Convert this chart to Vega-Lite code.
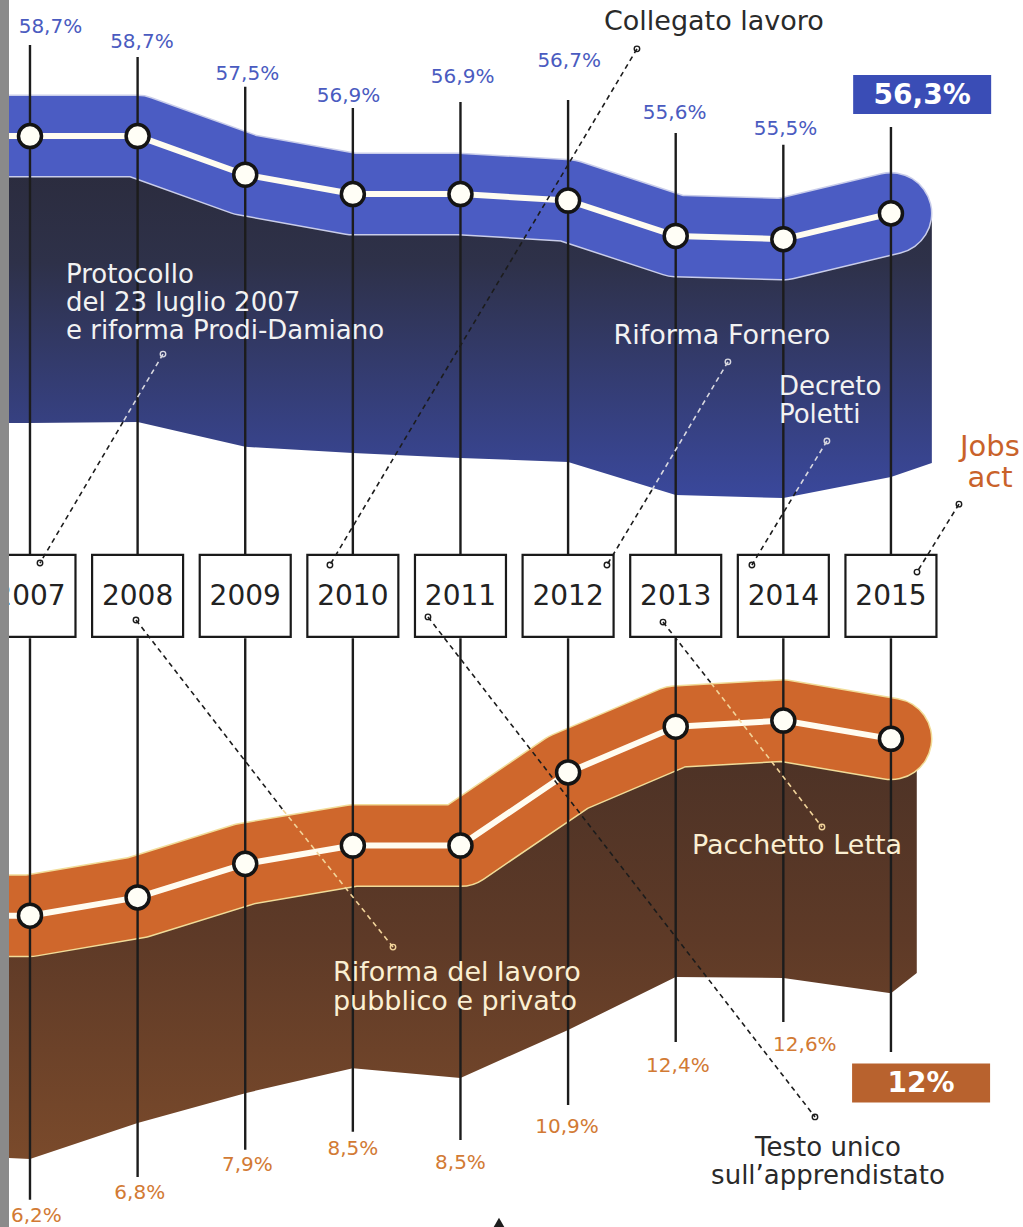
{
  "$schema": "https://vega.github.io/schema/vega-lite/v6.json",
  "width": 1023,
  "height": 1227,
  "autosize": {"type": "fit", "contains": "padding"},
  "padding": {"left": 9, "top": 0, "right": 0, "bottom": 0},
  "background": "#8a8a8a",
  "config": {"view": {"fill": "#ffffff", "stroke": null}, "text": {"font": "DejaVu Sans"}},
  "datasets": {
    "series": [
      {"year": 2007, "occupazione": 58.7, "disoccupazione": 6.2, "occ_lab": "58,7%", "dis_lab": "6,2%", "occ_lx": 2007.19, "occ_ly": 62.09, "occ_top": 61.53, "dis_lx": 2007.06, "dis_ly": -3.65, "dis_bot": -3.12},
      {"year": 2008, "occupazione": 58.7, "disoccupazione": 6.8, "occ_lab": "58,7%", "dis_lab": "6,8%", "occ_lx": 2008.04, "occ_ly": 61.62, "occ_top": 61.16, "dis_lx": 2008.02, "dis_ly": -2.9, "dis_bot": -2.37},
      {"year": 2009, "occupazione": 57.5, "disoccupazione": 7.9, "occ_lab": "57,5%", "dis_lab": "7,9%", "occ_lx": 2009.02, "occ_ly": 60.63, "occ_top": 60.23, "dis_lx": 2009.02, "dis_ly": -1.98, "dis_bot": -1.48},
      {"year": 2010, "occupazione": 56.9, "disoccupazione": 8.5, "occ_lab": "56,9%", "dis_lab": "8,5%", "occ_lx": 2009.96, "occ_ly": 59.95, "occ_top": 59.57, "dis_lx": 2010.0, "dis_ly": -1.45, "dis_bot": -0.89},
      {"year": 2011, "occupazione": 56.9, "disoccupazione": 8.5, "occ_lab": "56,9%", "dis_lab": "8,5%", "occ_lx": 2011.02, "occ_ly": 60.54, "occ_top": 59.76, "dis_lx": 2011.0, "dis_ly": -1.91, "dis_bot": -1.16},
      {"year": 2012, "occupazione": 56.7, "disoccupazione": 10.9, "occ_lab": "56,7%", "dis_lab": "10,9%", "occ_lx": 2012.01, "occ_ly": 61.03, "occ_top": 59.82, "dis_lx": 2011.99, "dis_ly": -0.73, "dis_bot": -0.01},
      {"year": 2013, "occupazione": 55.6, "disoccupazione": 12.4, "occ_lab": "55,6%", "dis_lab": "12,4%", "occ_lx": 2012.99, "occ_ly": 59.42, "occ_top": 58.8, "dis_lx": 2013.02, "dis_ly": 1.27, "dis_bot": 2.06},
      {"year": 2014, "occupazione": 55.5, "disoccupazione": 12.6, "occ_lab": "55,5%", "dis_lab": "12,6%", "occ_lx": 2014.02, "occ_ly": 58.92, "occ_top": 58.43, "dis_lx": 2014.2, "dis_ly": 1.96, "dis_bot": 2.71},
      {"year": 2015, "occupazione": 56.3, "disoccupazione": 12.0, "occ_lab": "56,3%", "dis_lab": "12%", "occ_lx": 2015.29, "occ_ly": 59.99, "occ_top": 58.98, "dis_lx": 2015.28, "dis_ly": 0.71, "dis_bot": 1.73}
    ],
    "ribbonB": [
      {"x": 2006.8, "band": 58.7, "top": 58.7, "bottom": 49.79},
      {"x": 2007, "band": 58.7, "top": 58.7, "bottom": 49.79},
      {"x": 2008, "band": 58.7, "top": 58.7, "bottom": 49.82},
      {"x": 2009, "band": 57.5, "top": 57.5, "bottom": 49.05},
      {"x": 2010, "band": 56.9, "top": 56.9, "bottom": 48.86},
      {"x": 2011, "band": 56.9, "top": 56.9, "bottom": 48.7},
      {"x": 2012, "band": 56.7, "top": 56.7, "bottom": 48.58},
      {"x": 2013, "band": 55.6, "top": 55.6, "bottom": 47.55},
      {"x": 2014, "band": 55.5, "top": 55.5, "bottom": 47.46},
      {"x": 2015, "band": 56.3, "top": 56.3, "bottom": 48.11},
      {"x": 2015.38, "band": null, "top": 56.3, "bottom": 48.55}
    ],
    "ribbonO": [
      {"x": 2006.8, "band": 6.2, "top": 6.2, "bottom": -1.75},
      {"x": 2007, "band": 6.2, "top": 6.2, "bottom": -1.78},
      {"x": 2008, "band": 6.8, "top": 6.8, "bottom": -0.6},
      {"x": 2009, "band": 7.9, "top": 7.9, "bottom": 0.38},
      {"x": 2010, "band": 8.5, "top": 8.5, "bottom": 1.2},
      {"x": 2011, "band": 8.5, "top": 8.5, "bottom": 0.88},
      {"x": 2012, "band": 10.9, "top": 10.9, "bottom": 2.45},
      {"x": 2013, "band": 12.4, "top": 12.4, "bottom": 4.19},
      {"x": 2014, "band": 12.6, "top": 12.6, "bottom": 4.16},
      {"x": 2015, "band": 12.0, "top": 12.0, "bottom": 3.66},
      {"x": 2015.24, "band": null, "top": 12.0, "bottom": 4.32}
    ],
    "leadersUp": [
      {"x": 2008.236, "y": 51.93, "x2": 2007.864, "y2": 49.82, "tone": "light"},
      {"x": 2007.864, "y": 49.82, "x2": 2007.093, "y2": 45.44, "tone": "dark"},
      {"x": 2012.64, "y": 61.41, "x2": 2009.787, "y2": 45.38, "tone": "dark"},
      {"x": 2013.485, "y": 51.69, "x2": 2012.779, "y2": 47.71, "tone": "light"},
      {"x": 2012.779, "y": 47.71, "x2": 2012.361, "y2": 45.38, "tone": "dark"},
      {"x": 2014.405, "y": 49.23, "x2": 2014.117, "y2": 47.65, "tone": "light"},
      {"x": 2014.117, "y": 47.65, "x2": 2013.708, "y2": 45.38, "tone": "dark"},
      {"x": 2015.632, "y": 47.27, "x2": 2015.242, "y2": 45.16, "tone": "dark"}
    ],
    "endsUp": [
      {"x": 2008.236, "y": 51.93, "tone": "light"},
      {"x": 2007.093, "y": 45.44, "tone": "dark"},
      {"x": 2012.64, "y": 61.41, "tone": "dark"},
      {"x": 2009.787, "y": 45.38, "tone": "dark"},
      {"x": 2013.485, "y": 51.69, "tone": "light"},
      {"x": 2012.361, "y": 45.38, "tone": "dark"},
      {"x": 2014.405, "y": 49.23, "tone": "light"},
      {"x": 2013.708, "y": 45.38, "tone": "dark"},
      {"x": 2015.632, "y": 47.27, "tone": "dark"},
      {"x": 2015.242, "y": 45.16, "tone": "dark"}
    ],
    "leadersDown": [
      {"x": 2007.985, "y": 15.9, "x2": 2009.351, "y2": 9.67, "tone": "dark"},
      {"x": 2009.351, "y": 9.67, "x2": 2010.373, "y2": 5.17, "tone": "cream"},
      {"x": 2010.698, "y": 16.0, "x2": 2014.294, "y2": -0.4, "tone": "dark"},
      {"x": 2012.882, "y": 15.83, "x2": 2013.328, "y2": 13.83, "tone": "dark"},
      {"x": 2013.328, "y": 13.83, "x2": 2014.359, "y2": 9.11, "tone": "cream"}
    ],
    "endsDown": [
      {"x": 2007.985, "y": 15.9, "tone": "dark"},
      {"x": 2010.373, "y": 5.17, "tone": "cream"},
      {"x": 2010.698, "y": 16.0, "tone": "dark"},
      {"x": 2014.294, "y": -0.4, "tone": "dark"},
      {"x": 2012.882, "y": 15.83, "tone": "dark"},
      {"x": 2014.359, "y": 9.11, "tone": "cream"}
    ]
  },
  "layer": [
    {
      "layer": [
        {
          "data": {"name": "ribbonB"},
          "mark": {"type": "area", "clip": true, "color": {"gradient": "linear", "x1": 0, "y1": 0, "x2": 0, "y2": 1, "stops": [{"offset": 0, "color": "#2a2a3a"}, {"offset": 0.35, "color": "#2e3149"}, {"offset": 1, "color": "#3a489c"}]}},
          "encoding": {
            "x": {"field": "x", "type": "quantitative", "scale": {"type": "linear", "domain": [2006.805, 2016.227], "nice": false, "zero": false}, "axis": null},
            "y": {"field": "top", "type": "quantitative", "scale": {"domain": [24.82, 62.927], "nice": false, "zero": false}, "axis": null},
            "y2": {"field": "bottom"}
          }
        },
        {
          "data": {"name": "ribbonB"},
          "mark": {"type": "line", "clip": true, "stroke": "#c9cdea", "strokeWidth": 83, "strokeCap": "round", "strokeJoin": "round"},
          "encoding": {
            "x": {"field": "x", "type": "quantitative", "scale": {"type": "linear", "domain": [2006.805, 2016.227], "nice": false, "zero": false}, "axis": null},
            "y": {"field": "band", "type": "quantitative", "scale": {"domain": [24.82, 62.927], "nice": false, "zero": false}, "axis": null}
          }
        },
        {
          "data": {"name": "ribbonB"},
          "mark": {"type": "line", "clip": true, "stroke": "#4b5cc3", "strokeWidth": 80, "strokeCap": "round", "strokeJoin": "round"},
          "encoding": {
            "x": {"field": "x", "type": "quantitative", "scale": {"type": "linear", "domain": [2006.805, 2016.227], "nice": false, "zero": false}, "axis": null},
            "y": {"field": "band", "type": "quantitative", "scale": {"domain": [24.82, 62.927], "nice": false, "zero": false}, "axis": null}
          }
        },
        {
          "data": {"name": "series"},
          "mark": {"type": "rule", "stroke": "#1c1c1c", "strokeWidth": 2.4},
          "encoding": {
            "x": {"field": "year", "type": "quantitative", "scale": {"type": "linear", "domain": [2006.805, 2016.227], "nice": false, "zero": false}, "axis": null},
            "y": {"field": "occ_top", "type": "quantitative", "scale": {"domain": [24.82, 62.927], "nice": false, "zero": false}, "axis": null},
            "y2": {"datum": 45.0}
          }
        },
        {
          "data": {"name": "ribbonB"},
          "mark": {"type": "line", "clip": true, "stroke": "#fffcf0", "strokeWidth": 6, "strokeJoin": "round"},
          "encoding": {
            "x": {"field": "x", "type": "quantitative", "scale": {"type": "linear", "domain": [2006.805, 2016.227], "nice": false, "zero": false}, "axis": null},
            "y": {"field": "band", "type": "quantitative", "scale": {"domain": [24.82, 62.927], "nice": false, "zero": false}, "axis": null}
          }
        },
        {
          "data": {"name": "series"},
          "mark": {"type": "point", "shape": "circle", "size": 530, "filled": true, "fill": "#fffef6", "stroke": "#141414", "strokeWidth": 3.5, "opacity": 1},
          "encoding": {
            "x": {"field": "year", "type": "quantitative", "scale": {"type": "linear", "domain": [2006.805, 2016.227], "nice": false, "zero": false}, "axis": null},
            "y": {"field": "occupazione", "type": "quantitative", "scale": {"domain": [24.82, 62.927], "nice": false, "zero": false}, "axis": null}
          }
        },
        {
          "data": {"name": "series"},
          "mark": {"type": "point", "clip": true, "shape": "M-1,-0.9L1,-0.9L1,0.9L-1,0.9Z", "size": 8281, "filled": true, "fill": "#ffffff", "stroke": "#1a1a1a", "strokeWidth": 2.2, "opacity": 1},
          "encoding": {
            "x": {"field": "year", "type": "quantitative", "scale": {"type": "linear", "domain": [2006.805, 2016.227], "nice": false, "zero": false}, "axis": null},
            "y": {"datum": 44.42, "type": "quantitative", "scale": {"domain": [24.82, 62.927], "nice": false, "zero": false}, "axis": null}
          }
        },
        {
          "data": {"name": "series"},
          "mark": {"type": "text", "clip": true, "fontSize": 28, "fontWeight": "normal", "fill": "#222222", "baseline": "middle", "align": "center", "dy": 1},
          "encoding": {
            "x": {"field": "year", "type": "quantitative", "scale": {"type": "linear", "domain": [2006.805, 2016.227], "nice": false, "zero": false}, "axis": null},
            "y": {"datum": 44.42, "type": "quantitative", "scale": {"domain": [24.82, 62.927], "nice": false, "zero": false}, "axis": null},
            "text": {"field": "year", "type": "nominal"}
          }
        },
        {
          "data": {"name": "series"},
          "transform": [{"filter": "datum.year < 2015"}],
          "mark": {"type": "text", "clip": true, "fontSize": 20, "fill": "#4a5bc0", "baseline": "middle", "align": "center"},
          "encoding": {
            "x": {"field": "occ_lx", "type": "quantitative", "scale": {"type": "linear", "domain": [2006.805, 2016.227], "nice": false, "zero": false}, "axis": null},
            "y": {"field": "occ_ly", "type": "quantitative", "scale": {"domain": [24.82, 62.927], "nice": false, "zero": false}, "axis": null},
            "text": {"field": "occ_lab", "type": "nominal"}
          }
        },
        {
          "data": {"name": "series"},
          "transform": [{"filter": "datum.year == 2015"}],
          "mark": {"type": "point", "shape": "M-1,-0.283L1,-0.283L1,0.283L-1,0.283Z", "size": 19044, "filled": true, "fill": "#3a4db6", "strokeWidth": 0, "opacity": 1},
          "encoding": {
            "x": {"field": "occ_lx", "type": "quantitative", "scale": {"type": "linear", "domain": [2006.805, 2016.227], "nice": false, "zero": false}, "axis": null},
            "y": {"field": "occ_ly", "type": "quantitative", "scale": {"domain": [24.82, 62.927], "nice": false, "zero": false}, "axis": null}
          }
        },
        {
          "data": {"name": "series"},
          "transform": [{"filter": "datum.year == 2015"}],
          "mark": {"type": "text", "fontSize": 28, "fontWeight": "bold", "fill": "#ffffff", "baseline": "middle", "align": "center", "dy": 1},
          "encoding": {
            "x": {"field": "occ_lx", "type": "quantitative", "scale": {"type": "linear", "domain": [2006.805, 2016.227], "nice": false, "zero": false}, "axis": null},
            "y": {"field": "occ_ly", "type": "quantitative", "scale": {"domain": [24.82, 62.927], "nice": false, "zero": false}, "axis": null},
            "text": {"field": "occ_lab", "type": "nominal"}
          }
        },
        {
          "data": {"values": [
            {"x": 2007.334, "y": 54.39, "t": "Protocollo\ndel 23 luglio 2007\ne riforma Prodi-Damiano"},
            {"x": 2013.959, "y": 50.91, "t": "Decreto\nPoletti"}
          ]},
          "mark": {"type": "text", "clip": true, "fontSize": 26, "fill": "#f2f2f2", "align": "left", "baseline": "middle", "lineBreak": "\n", "lineHeight": 28},
          "encoding": {
            "x": {"field": "x", "type": "quantitative", "scale": {"type": "linear", "domain": [2006.805, 2016.227], "nice": false, "zero": false}, "axis": null},
            "y": {"field": "y", "type": "quantitative", "scale": {"domain": [24.82, 62.927], "nice": false, "zero": false}, "axis": null},
            "text": {"field": "t", "type": "nominal"}
          }
        },
        {
          "data": {"values": [{"x": 2013.43, "y": 52.49, "t": "Riforma Fornero"}]},
          "mark": {"type": "text", "clip": true, "fontSize": 27, "fill": "#f2f2f2", "align": "center", "baseline": "middle"},
          "encoding": {
            "x": {"field": "x", "type": "quantitative", "scale": {"type": "linear", "domain": [2006.805, 2016.227], "nice": false, "zero": false}, "axis": null},
            "y": {"field": "y", "type": "quantitative", "scale": {"domain": [24.82, 62.927], "nice": false, "zero": false}, "axis": null},
            "text": {"field": "t", "type": "nominal"}
          }
        },
        {
          "data": {"values": [{"x": 2013.355, "y": 62.24, "t": "Collegato lavoro"}]},
          "mark": {"type": "text", "clip": true, "fontSize": 27, "fill": "#2a2a2a", "align": "center", "baseline": "middle"},
          "encoding": {
            "x": {"field": "x", "type": "quantitative", "scale": {"type": "linear", "domain": [2006.805, 2016.227], "nice": false, "zero": false}, "axis": null},
            "y": {"field": "y", "type": "quantitative", "scale": {"domain": [24.82, 62.927], "nice": false, "zero": false}, "axis": null},
            "text": {"field": "t", "type": "nominal"}
          }
        },
        {
          "data": {"values": [{"x": 2015.92, "y": 49.05, "t": "Jobs\nact"}]},
          "mark": {"type": "text", "clip": true, "fontSize": 29, "fill": "#c9622a", "align": "center", "baseline": "middle", "lineBreak": "\n", "lineHeight": 31},
          "encoding": {
            "x": {"field": "x", "type": "quantitative", "scale": {"type": "linear", "domain": [2006.805, 2016.227], "nice": false, "zero": false}, "axis": null},
            "y": {"field": "y", "type": "quantitative", "scale": {"domain": [24.82, 62.927], "nice": false, "zero": false}, "axis": null},
            "text": {"field": "t", "type": "nominal"}
          }
        },
        {
          "data": {"name": "leadersUp"},
          "mark": {"type": "rule", "strokeWidth": 1.6, "strokeDash": [5, 4]},
          "encoding": {
            "x": {"field": "x", "type": "quantitative", "scale": {"type": "linear", "domain": [2006.805, 2016.227], "nice": false, "zero": false}, "axis": null},
            "x2": {"field": "x2"},
            "y": {"field": "y", "type": "quantitative", "scale": {"domain": [24.82, 62.927], "nice": false, "zero": false}, "axis": null},
            "y2": {"field": "y2"},
            "color": {"field": "tone", "type": "nominal", "scale": {"domain": ["dark", "light", "cream"], "range": ["#1c1c1c", "#d8d8e0", "#f2d49a"]}, "legend": null}
          }
        },
        {
          "data": {"name": "endsUp"},
          "mark": {"type": "point", "shape": "circle", "size": 30, "filled": false, "strokeWidth": 1.4, "opacity": 1},
          "encoding": {
            "x": {"field": "x", "type": "quantitative", "scale": {"type": "linear", "domain": [2006.805, 2016.227], "nice": false, "zero": false}, "axis": null},
            "y": {"field": "y", "type": "quantitative", "scale": {"domain": [24.82, 62.927], "nice": false, "zero": false}, "axis": null},
            "color": {"field": "tone", "type": "nominal", "scale": {"domain": ["dark", "light", "cream"], "range": ["#1c1c1c", "#d8d8e0", "#f2d49a"]}, "legend": null}
          }
        }
      ]
    },
    {
      "layer": [
        {
          "data": {"name": "ribbonO"},
          "mark": {"type": "area", "clip": true, "color": {"gradient": "linear", "x1": 0, "y1": 0, "x2": 0, "y2": 1, "stops": [{"offset": 0, "color": "#4a3126"}, {"offset": 0.5, "color": "#5e3a27"}, {"offset": 1, "color": "#7a4a2b"}]}},
          "encoding": {
            "x": {"field": "x", "type": "quantitative", "scale": {"type": "linear", "domain": [2006.805, 2016.227], "nice": false, "zero": false}, "axis": null},
            "y": {"field": "top", "type": "quantitative", "scale": {"domain": [-4.01, 36.233], "nice": false, "zero": false}, "axis": null},
            "y2": {"field": "bottom"}
          }
        },
        {
          "data": {"name": "ribbonO"},
          "mark": {"type": "line", "clip": true, "stroke": "#f1dc98", "strokeWidth": 83, "strokeCap": "round", "strokeJoin": "round"},
          "encoding": {
            "x": {"field": "x", "type": "quantitative", "scale": {"type": "linear", "domain": [2006.805, 2016.227], "nice": false, "zero": false}, "axis": null},
            "y": {"field": "band", "type": "quantitative", "scale": {"domain": [-4.01, 36.233], "nice": false, "zero": false}, "axis": null}
          }
        },
        {
          "data": {"name": "ribbonO"},
          "mark": {"type": "line", "clip": true, "stroke": "#cf672c", "strokeWidth": 80, "strokeCap": "round", "strokeJoin": "round"},
          "encoding": {
            "x": {"field": "x", "type": "quantitative", "scale": {"type": "linear", "domain": [2006.805, 2016.227], "nice": false, "zero": false}, "axis": null},
            "y": {"field": "band", "type": "quantitative", "scale": {"domain": [-4.01, 36.233], "nice": false, "zero": false}, "axis": null}
          }
        },
        {
          "data": {"name": "series"},
          "mark": {"type": "rule", "stroke": "#1c1c1c", "strokeWidth": 2.4},
          "encoding": {
            "x": {"field": "year", "type": "quantitative", "scale": {"type": "linear", "domain": [2006.805, 2016.227], "nice": false, "zero": false}, "axis": null},
            "y": {"field": "dis_bot", "type": "quantitative", "scale": {"domain": [-4.01, 36.233], "nice": false, "zero": false}, "axis": null},
            "y2": {"datum": 15.3}
          }
        },
        {
          "data": {"name": "ribbonO"},
          "mark": {"type": "line", "clip": true, "stroke": "#fffcf0", "strokeWidth": 6, "strokeJoin": "round"},
          "encoding": {
            "x": {"field": "x", "type": "quantitative", "scale": {"type": "linear", "domain": [2006.805, 2016.227], "nice": false, "zero": false}, "axis": null},
            "y": {"field": "band", "type": "quantitative", "scale": {"domain": [-4.01, 36.233], "nice": false, "zero": false}, "axis": null}
          }
        },
        {
          "data": {"name": "series"},
          "mark": {"type": "point", "shape": "circle", "size": 530, "filled": true, "fill": "#fffef6", "stroke": "#141414", "strokeWidth": 3.5, "opacity": 1},
          "encoding": {
            "x": {"field": "year", "type": "quantitative", "scale": {"type": "linear", "domain": [2006.805, 2016.227], "nice": false, "zero": false}, "axis": null},
            "y": {"field": "disoccupazione", "type": "quantitative", "scale": {"domain": [-4.01, 36.233], "nice": false, "zero": false}, "axis": null}
          }
        },
        {
          "data": {"name": "series"},
          "transform": [{"filter": "datum.year < 2015"}],
          "mark": {"type": "text", "clip": true, "fontSize": 20, "fill": "#d27a34", "baseline": "middle", "align": "center"},
          "encoding": {
            "x": {"field": "dis_lx", "type": "quantitative", "scale": {"type": "linear", "domain": [2006.805, 2016.227], "nice": false, "zero": false}, "axis": null},
            "y": {"field": "dis_ly", "type": "quantitative", "scale": {"domain": [-4.01, 36.233], "nice": false, "zero": false}, "axis": null},
            "text": {"field": "dis_lab", "type": "nominal"}
          }
        },
        {
          "data": {"name": "series"},
          "transform": [{"filter": "datum.year == 2015"}],
          "mark": {"type": "point", "shape": "M-1,-0.283L1,-0.283L1,0.283L-1,0.283Z", "size": 19044, "filled": true, "fill": "#b8622e", "strokeWidth": 0, "opacity": 1},
          "encoding": {
            "x": {"field": "dis_lx", "type": "quantitative", "scale": {"type": "linear", "domain": [2006.805, 2016.227], "nice": false, "zero": false}, "axis": null},
            "y": {"field": "dis_ly", "type": "quantitative", "scale": {"domain": [-4.01, 36.233], "nice": false, "zero": false}, "axis": null}
          }
        },
        {
          "data": {"name": "series"},
          "transform": [{"filter": "datum.year == 2015"}],
          "mark": {"type": "text", "fontSize": 28, "fontWeight": "bold", "fill": "#ffffff", "baseline": "middle", "align": "center", "dy": 1},
          "encoding": {
            "x": {"field": "dis_lx", "type": "quantitative", "scale": {"type": "linear", "domain": [2006.805, 2016.227], "nice": false, "zero": false}, "axis": null},
            "y": {"field": "dis_ly", "type": "quantitative", "scale": {"domain": [-4.01, 36.233], "nice": false, "zero": false}, "axis": null},
            "text": {"field": "dis_lab", "type": "nominal"}
          }
        },
        {
          "data": {"values": [{"x": 2009.815, "y": 4.32, "t": "Riforma del lavoro\npubblico e privato"}]},
          "mark": {"type": "text", "clip": true, "fontSize": 27, "fill": "#fbefd2", "align": "left", "baseline": "middle", "lineBreak": "\n", "lineHeight": 29},
          "encoding": {
            "x": {"field": "x", "type": "quantitative", "scale": {"type": "linear", "domain": [2006.805, 2016.227], "nice": false, "zero": false}, "axis": null},
            "y": {"field": "y", "type": "quantitative", "scale": {"domain": [-4.01, 36.233], "nice": false, "zero": false}, "axis": null},
            "text": {"field": "t", "type": "nominal"}
          }
        },
        {
          "data": {"values": [{"x": 2014.127, "y": 8.49, "t": "Pacchetto Letta"}]},
          "mark": {"type": "text", "clip": true, "fontSize": 27, "fill": "#fbefd2", "align": "center", "baseline": "middle"},
          "encoding": {
            "x": {"field": "x", "type": "quantitative", "scale": {"type": "linear", "domain": [2006.805, 2016.227], "nice": false, "zero": false}, "axis": null},
            "y": {"field": "y", "type": "quantitative", "scale": {"domain": [-4.01, 36.233], "nice": false, "zero": false}, "axis": null},
            "text": {"field": "t", "type": "nominal"}
          }
        },
        {
          "data": {"values": [{"x": 2014.415, "y": -1.42, "t": "Testo unico\nsull’apprendistato"}]},
          "mark": {"type": "text", "clip": true, "fontSize": 26, "fill": "#2a2a2a", "align": "center", "baseline": "middle", "lineBreak": "\n", "lineHeight": 28},
          "encoding": {
            "x": {"field": "x", "type": "quantitative", "scale": {"type": "linear", "domain": [2006.805, 2016.227], "nice": false, "zero": false}, "axis": null},
            "y": {"field": "y", "type": "quantitative", "scale": {"domain": [-4.01, 36.233], "nice": false, "zero": false}, "axis": null},
            "text": {"field": "t", "type": "nominal"}
          }
        },
        {
          "data": {"name": "leadersDown"},
          "mark": {"type": "rule", "strokeWidth": 1.6, "strokeDash": [5, 4]},
          "encoding": {
            "x": {"field": "x", "type": "quantitative", "scale": {"type": "linear", "domain": [2006.805, 2016.227], "nice": false, "zero": false}, "axis": null},
            "x2": {"field": "x2"},
            "y": {"field": "y", "type": "quantitative", "scale": {"domain": [-4.01, 36.233], "nice": false, "zero": false}, "axis": null},
            "y2": {"field": "y2"},
            "color": {"field": "tone", "type": "nominal", "scale": {"domain": ["dark", "light", "cream"], "range": ["#1c1c1c", "#d8d8e0", "#f2d49a"]}, "legend": null}
          }
        },
        {
          "data": {"name": "endsDown"},
          "mark": {"type": "point", "shape": "circle", "size": 30, "filled": false, "strokeWidth": 1.4, "opacity": 1},
          "encoding": {
            "x": {"field": "x", "type": "quantitative", "scale": {"type": "linear", "domain": [2006.805, 2016.227], "nice": false, "zero": false}, "axis": null},
            "y": {"field": "y", "type": "quantitative", "scale": {"domain": [-4.01, 36.233], "nice": false, "zero": false}, "axis": null},
            "color": {"field": "tone", "type": "nominal", "scale": {"domain": ["dark", "light", "cream"], "range": ["#1c1c1c", "#d8d8e0", "#f2d49a"]}, "legend": null}
          }
        },
        {
          "data": {"values": [{"x": 2011.358, "y": -4.0}]},
          "mark": {"type": "point", "clip": true, "shape": "triangle-up", "size": 420, "filled": true, "fill": "#1e1e1e", "strokeWidth": 0, "opacity": 1},
          "encoding": {
            "x": {"field": "x", "type": "quantitative", "scale": {"type": "linear", "domain": [2006.805, 2016.227], "nice": false, "zero": false}, "axis": null},
            "y": {"field": "y", "type": "quantitative", "scale": {"domain": [-4.01, 36.233], "nice": false, "zero": false}, "axis": null}
          }
        }
      ]
    }
  ],
  "resolve": {"scale": {"y": "independent"}}
}
